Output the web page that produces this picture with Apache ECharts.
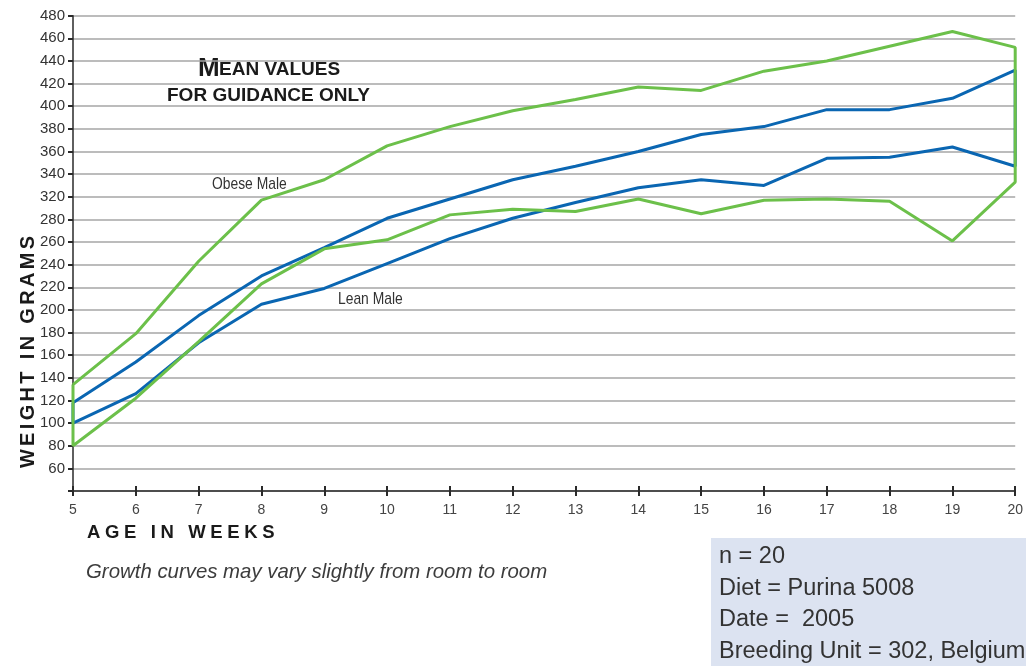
<!DOCTYPE html>
<html>
<head>
<meta charset="utf-8">
<script src="https://cdn.jsdelivr.net/npm/echarts@6/dist/echarts.min.js"></script>
<style>
html,body{margin:0;padding:0;background:#fff;}
#c{width:1026px;height:666px;}
</style>
</head>
<body>
<div id="c"></div>
<script>
// ---- data (weeks of age, weight on the chart's vertical scale) ----
const weeks = [5,6,7,8,9,10,11,12,13,14,15,16,17,18,19,20];
const obeseHigh = [154,199,263,317,335,365,382,396,406,417,414,431,440,453,466,452];
const obeseLow  = [100,142,192,243,274,282,304,309,307,318,305,317,318,316,281,333];
const leanHigh  = [138,174,215,250,275,301,318,335,347,360,375,382,397,397,407,432];
const leanLow   = [120,146,191,225,239,261,283,301,315,328,335,330,354,355,364,347];
// tick labels as printed on the reference, top to bottom (grid lines every 20)
const yTickLabels = ['480','460','440','420','400','380','360','340','320','280','260','240','220','200','180','160','140','120','100','80','60',''];
const xTickLabels = weeks.map(String);
const infoLines = ['n = 20','Diet = Purina 5008','Date =  2005','Breeding Unit = 302, Belgium'];

function band(high, low){
  const up = weeks.map((w,i)=>[w, high[i]]);
  const down = weeks.map((w,i)=>[w, low[i]]).reverse();
  return up.concat(down, [up[0]]);
}
function spaced(s, sep){ return s.split('').join(sep); }

const chart = echarts.init(document.getElementById('c'));
const FONT = "'Liberation Sans', Arial, Helvetica, sans-serif";
const GREEN = '#6cc04a', BLUE = '#0a66b2';

chart.setOption({
  animation:false,
  grid:{left:73, right:2, top:15.7, bottom:175},
  xAxis:[{
    type:'value', min:5, max:20, interval:1,
    axisLine:{show:true, lineStyle:{color:'#2a2a2a', width:1.5}},
    axisTick:{show:true, length:5, lineStyle:{color:'#2a2a2a', width:2}},
    axisLabel:{margin:12, color:'#444', fontSize:14, fontFamily:FONT,
      formatter:(v)=>{const i=weeks.indexOf(v); return i>=0?xTickLabels[i]:'';}},
    splitLine:{show:false}
  },{
    type:'value', min:5, max:20, interval:1, position:'bottom',
    axisLine:{show:false},
    axisTick:{show:true, inside:true, length:5, lineStyle:{color:'#2a2a2a', width:2}},
    axisLabel:{show:false}, splitLine:{show:false}
  }],
  yAxis:{
    type:'value', min:60, max:480, interval:20,
    axisLine:{show:true, lineStyle:{color:'#2a2a2a', width:1.5}},
    axisTick:{show:true, length:5, lineStyle:{color:'#2a2a2a', width:2}},
    axisLabel:{margin:8, color:'#333', fontSize:15, fontFamily:FONT,
      formatter:(v)=>{const i=Math.round((480-v)/20); return yTickLabels[i]||'';}},
    splitLine:{show:true, lineStyle:{color:'#a6a6a6', width:1.5}}
  },
  series:[
    {name:'Lean Male', type:'line', data:band(leanHigh, leanLow), showSymbol:false, symbol:'none',
     lineStyle:{color:BLUE, width:3}, itemStyle:{color:BLUE}, z:2},
    {name:'Obese Male', type:'line', data:band(obeseHigh, obeseLow), showSymbol:false, symbol:'none',
     lineStyle:{color:GREEN, width:3}, itemStyle:{color:GREEN}, z:3}
  ],
  graphic:[
    {type:'text', x:198, y:68.8, style:{text:'M', font:"bold 26px "+FONT, fill:'#1a1a1a', textVerticalAlign:'middle'}},
    {type:'text', x:219, y:69.5, style:{text:'EAN VALUES', font:"bold 19px "+FONT, fill:'#1a1a1a', textVerticalAlign:'middle'}},
    {type:'text', x:167, y:95.5, style:{text:'FOR GUIDANCE ONLY', font:"bold 19px "+FONT, fill:'#1a1a1a', textVerticalAlign:'middle'}},
    {type:'text', x:212, y:184, scaleX:0.815, originX:0, originY:0,
     style:{x:0, y:0, text:'Obese Male', font:"17px "+FONT, fill:'#333', textVerticalAlign:'middle'}},
    {type:'text', x:338, y:299, scaleX:0.815, originX:0, originY:0,
     style:{x:0, y:0, text:'Lean Male', font:"17px "+FONT, fill:'#333', textVerticalAlign:'middle'}},
    {type:'text', x:28, y:352, rotation:Math.PI/2,
     style:{text:spaced('WEIGHT IN GRAMS','\u2006'), font:"bold 20px "+FONT, fill:'#1a1a1a', textAlign:'center', textVerticalAlign:'middle'}},
    {type:'text', x:87, y:533, style:{text:spaced('AGE IN WEEKS','\u2005'), font:"bold 18.5px "+FONT, fill:'#1a1a1a', textVerticalAlign:'middle'}},
    {type:'text', x:86, y:572, style:{text:'Growth curves may vary slightly from room to room', font:"italic 20.4px "+FONT, fill:'#3c3c3c', textVerticalAlign:'middle'}},
    {type:'rect', shape:{x:711, y:538, width:315, height:128}, style:{fill:'#dce3f1'}, z:-1},
    {type:'text', x:719, y:557, style:{text:infoLines[0], font:"23.5px "+FONT, fill:'#333', textVerticalAlign:'middle'}},
    {type:'text', x:719, y:589, style:{text:infoLines[1], font:"23.5px "+FONT, fill:'#333', textVerticalAlign:'middle'}},
    {type:'text', x:719, y:620, style:{text:infoLines[2], font:"23.5px "+FONT, fill:'#333', textVerticalAlign:'middle'}},
    {type:'text', x:719, y:652, style:{text:infoLines[3], font:"23.5px "+FONT, fill:'#333', textVerticalAlign:'middle'}}
  ]
});
</script>
</body>
</html>
